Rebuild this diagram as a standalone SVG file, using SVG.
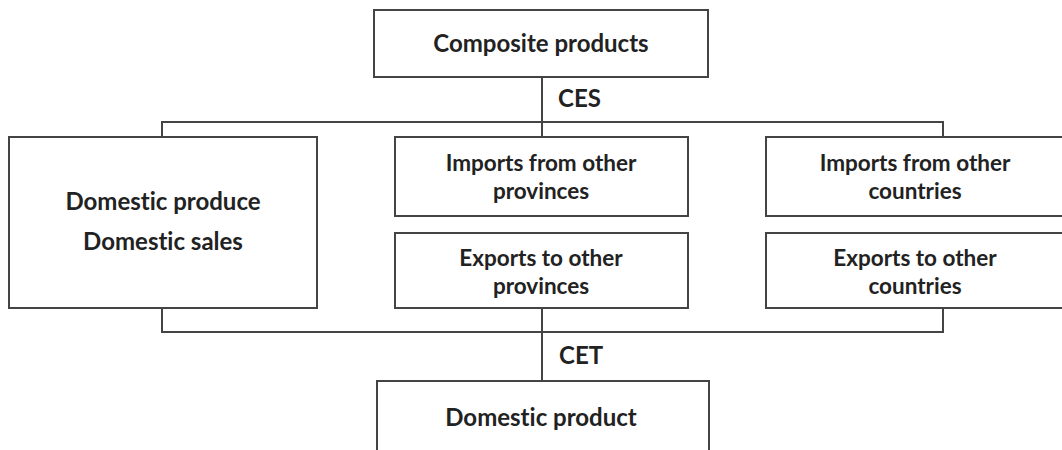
<svg xmlns="http://www.w3.org/2000/svg" width="1062" height="450" viewBox="0 0 1062 450">
<style>
.box{fill:#fff;stroke:#444;stroke-width:2}
.ln{fill:none;stroke:#444;stroke-width:2}
text{font-family:Lato,"Noto Sans",sans-serif;font-weight:bold;font-size:24px;fill:#222;text-anchor:middle;font-variant-ligatures:none}
.two{font-size:22.5px}
.lbl{text-anchor:start}
</style>
<rect width="1062" height="450" fill="#fff"/>
<g id="connectors">
<path class="ln" d="M542 77V137M542 308V381"/>
<path class="ln" d="M162 137V122H943V137"/>
<path class="ln" d="M162 308V332H943V308"/>
<text class="lbl" x="558" y="107">CES</text>
<text class="lbl" x="559" y="364">CET</text>
</g>
<g id="composite"><rect class="box" x="374" y="10" width="334" height="67"/><text x="541" y="52">Composite products</text></g>
<g id="domestic"><rect class="box" x="9" y="137" width="308" height="171"/><text x="163" y="210">Domestic produce</text><text x="163" y="250">Domestic sales</text></g>
<g id="imp-prov"><rect class="box" x="395" y="137" width="293" height="79"/><text class="two" x="541" y="171">Imports from other</text><text class="two" x="541" y="199">provinces</text></g>
<g id="exp-prov"><rect class="box" x="395" y="233" width="293" height="75"/><text class="two" x="541" y="266">Exports to other</text><text class="two" x="541" y="294">provinces</text></g>
<g id="imp-ctry"><rect class="box" x="766" y="137" width="300" height="79"/><text class="two" x="915" y="171">Imports from other</text><text class="two" x="915" y="199">countries</text></g>
<g id="exp-ctry"><rect class="box" x="766" y="233" width="300" height="75"/><text class="two" x="915" y="266">Exports to other</text><text class="two" x="915" y="294">countries</text></g>
<g id="domestic-product"><rect class="box" x="377" y="381" width="332" height="80"/><text x="541" y="426">Domestic product</text></g>
</svg>
